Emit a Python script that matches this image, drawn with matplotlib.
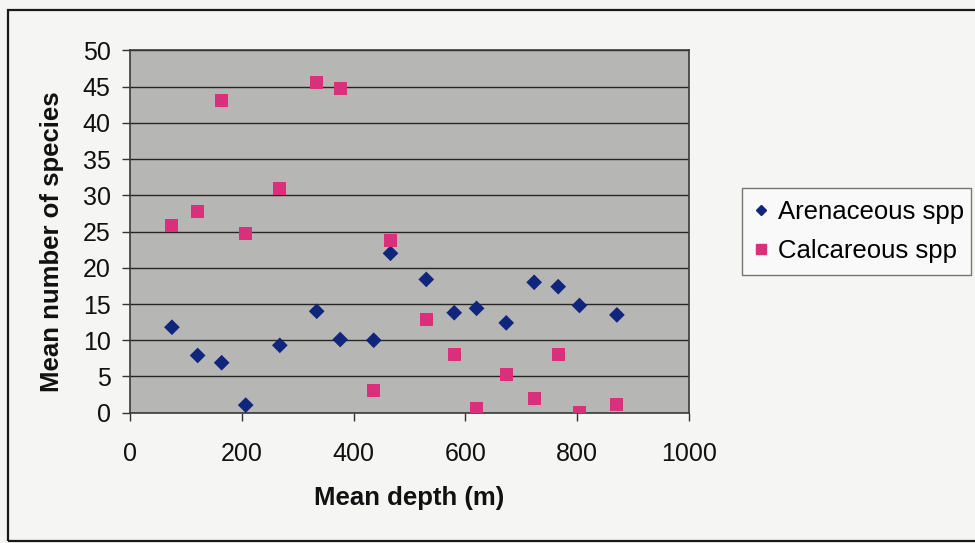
import matplotlib
matplotlib.use("Agg")
import matplotlib.pyplot as plt
from matplotlib.patches import Rectangle
from matplotlib.lines import Line2D

# ---- data ----
depth = [75, 121, 164, 207, 268, 334, 376, 436, 466, 530, 580, 620, 673, 723, 766, 804, 871]
arenaceous = [11.8, 7.9, 6.9, 1.05, 9.3, 14.0, 10.1, 10.0, 22.0, 18.4, 13.8, 14.4, 12.4, 18.0, 17.4, 14.8, 13.5]
calcareous = [25.9, 27.8, 43.1, 24.8, 30.9, 45.6, 44.7, 3.0, 23.8, 12.9, 8.0, 0.6, 5.3, 1.9, 8.0, 0.0, 1.15]
series_names = ["Arenaceous spp", "Calcareous spp"]
x_ticks = [0, 200, 400, 600, 800, 1000]
y_ticks = [0, 5, 10, 15, 20, 25, 30, 35, 40, 45, 50]
x_label = "Mean depth (m)"
y_label = "Mean number of species"

plt.rcParams['font.family'] = ['Liberation Sans', 'DejaVu Sans']

W, H = 975, 543
fig = plt.figure(figsize=(W / 100, H / 100), dpi=100)
fig.patch.set_facecolor('#f5f5f3')

# outer chart frame
fig.patches.append(Rectangle((8 / W, 1 - 541 / H), 1.2, (541 - 10) / H,
                             transform=fig.transFigure, fill=False,
                             edgecolor='#1a1a1a', linewidth=1.6, zorder=0))

ax = fig.add_axes([130 / W, 1 - 412.7 / H, (689 - 130) / W, (412.7 - 50.5) / H])
ax.set_facecolor('#b6b6b4')
ax.set_xlim(0, 1000)
ax.set_ylim(0, 50)
ax.set_xticks(x_ticks)
ax.set_yticks(y_ticks)
ax.yaxis.grid(True, color='#262626', linewidth=1.0)
ax.set_axisbelow(True)
for s in ax.spines.values():
    s.set_color('#3a3a3a')
    s.set_linewidth(1.2)

ax.tick_params(axis='both', direction='out', length=6, width=1.0, color='#333333',
               labelsize=18, labelcolor='#111111')
ax.tick_params(axis='y', pad=8)
ax.tick_params(axis='x', pad=15)

ax.scatter(depth, arenaceous, marker='D', s=8.0**2, color='#10257c', edgecolors='none',
           zorder=3, label=series_names[0])
ax.scatter(depth, calcareous, marker='s', s=9.4**2, color='#da2f7a', edgecolors='none',
           zorder=3, label=series_names[1])

ax.set_xlabel(x_label, fontsize=18.5, fontweight='bold', color='#111111')
ax.set_ylabel(y_label, fontsize=18.5, fontweight='bold', color='#111111')
ax.yaxis.set_label_coords(-(130 - 64) / (689 - 130), (412.7 - 241.5) / (412.7 - 50.5))
ax.xaxis.set_label_coords(0.5, -(486 - 412.7) / (412.7 - 50.5))

handles = [Line2D([], [], linestyle='none', marker='D', markersize=5.5, color='#10257c'),
           Line2D([], [], linestyle='none', marker='s', markersize=6.5, color='#da2f7a')]
leg = fig.legend(handles, series_names, loc='lower left',
                 bbox_to_anchor=(742 / W, 1 - 275 / H, (971 - 742) / W, (275 - 189) / H),
                 mode='expand', fontsize=18.5, frameon=True, fancybox=False,
                 handlelength=0.6, handletextpad=0.35, borderpad=0.45, labelspacing=0.6,
                 borderaxespad=0)
leg.get_frame().set_edgecolor('#555555')
leg.get_frame().set_linewidth(1.0)
leg.get_frame().set_facecolor('#fbfbfb')

fig.savefig('out.png', dpi=100, facecolor=fig.get_facecolor())
